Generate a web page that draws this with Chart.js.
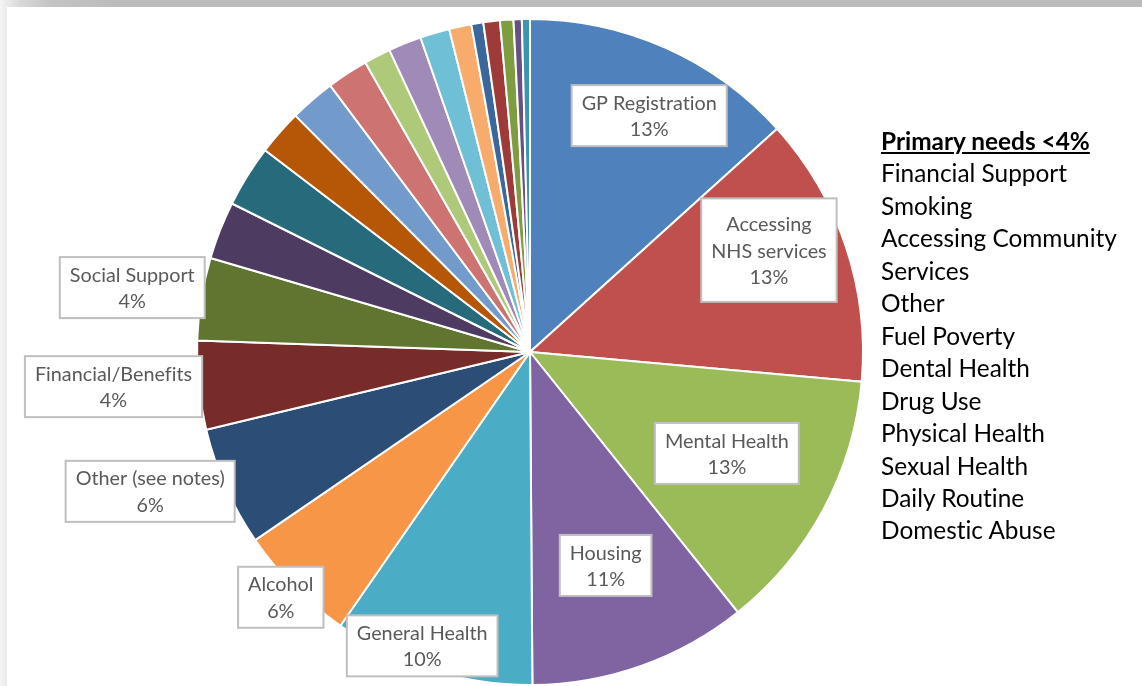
<!DOCTYPE html>
<html>
<head>
<meta charset="utf-8">
<script src="https://cdn.jsdelivr.net/npm/chart.js@4.4.0/dist/chart.umd.min.js"></script>
<style>
  html, body { margin:0; padding:0; background:#fff; }
  body { width:1142px; height:686px; position:relative; overflow:hidden; font-family: Lato, "Open Sans", sans-serif; font-variant-ligatures:none; }
  #topband { position:absolute; left:0; top:0; width:1142px; height:7px;
    background: linear-gradient(to right, #f4f4f4 0px, #d9d9d9 20px, #c4c4c4 50px, #bbbbbb 120px, #bbbbbb 1142px); }
  #leftband { position:absolute; left:0; top:7px; width:7px; height:679px;
    background: linear-gradient(to right, #f6f6f6, #e9e9e9); }
  #wrap { position:absolute; left:0; top:0; width:1142px; height:686px; }
  #legend { position:absolute; left:881px; top:125px; font-family: Lato, "Open Sans", sans-serif; font-size:24.4px; line-height:32.45px; color:#000; white-space:nowrap; font-variant-ligatures:none; }
  #legend .t { font-weight:bold; text-decoration:underline; }
</style>
</head>
<body>
<div id="wrap"><canvas id="c" width="1142" height="686"></canvas></div>
<div id="topband"></div>
<div id="leftband"></div>
<div id="legend"></div>
<script>
// ---- data ----
const categories = [
  "GP Registration", "Accessing NHS services", "Mental Health", "Housing", "General Health",
  "Alcohol", "Other (see notes)", "Financial/Benefits", "Social Support",
  "Financial Support", "Smoking", "Accessing Community Services", "Other", "Fuel Poverty",
  "Dental Health", "Drug Use", "Physical Health", "Sexual Health", "Daily Routine",
  "Domestic Abuse", "Unlisted need A", "Unlisted need B", "Unlisted need C"
];
const shares = [
  13.3, 13.1, 12.85, 10.6, 9.75,
  5.8, 5.8, 4.3, 4.0,
  2.8, 3.0, 2.2, 2.2, 2.0,
  1.3, 1.6, 1.43, 1.08, 0.58,
  0.8, 0.65, 0.4, 0.39
];
const labelLines = [
  ["GP Registration"], ["Accessing", "NHS services"], ["Mental Health"], ["Housing"], ["General Health"],
  ["Alcohol"], ["Other (see notes)"], ["Financial/Benefits"], ["Social Support"]
];
const legendTitle = "Primary needs <4%";
const legendItems = ["Financial Support", "Smoking", "Accessing Community", "Services", "Other",
  "Fuel Poverty", "Dental Health", "Drug Use", "Physical Health", "Sexual Health", "Daily Routine", "Domestic Abuse"];

// ---- styles / placement ----
const colors = [
  "#4F81BD", "#C0504D", "#9BBB59", "#8064A2", "#4BACC6", "#F79646",
  "#2C4D75", "#772C2A", "#5F7530", "#4D3B62", "#276A7C", "#B65708",
  "#729ACA", "#CD7371", "#AFC97A", "#A08BB8", "#6FC0D6", "#F9AB6B",
  "#3A679C", "#9E3B38", "#7E9D40", "#675083", "#3B95AD"
];
// radius fraction, angle offset (degrees) and extra vertical padding for each data label
const labelPlacement = [
  {r:0.795, da:2.8, pad:0}, {r:0.78, da:-4.6, pad:8}, {r:0.665, da:-1.0, pad:0}, {r:0.68, da:0, pad:0},
  {r:0.94, da:3.0, pad:0}, {r:1.05, da:0.3, pad:0}, {r:1.215, da:3.8, pad:0}, {r:1.255, da:1.0, pad:0}, {r:1.21, da:0, pad:0}
];

const lg = document.getElementById('legend');
const t = document.createElement('div'); t.className = 't'; t.textContent = legendTitle; lg.appendChild(t);
legendItems.forEach(s => { const d = document.createElement('div'); d.textContent = s; lg.appendChild(d); });

// break typographic ligatures (e.g. "ti") for canvas text
const noLig = s => s.replace(/t(?=[ifl])/g, 't\u200C').replace(/f(?=[ifl])/g, 'f\u200C');

const labelPlugin = {
  id: 'boxLabels',
  afterDatasetsDraw(chart) {
    const ctx = chart.ctx;
    const meta = chart.getDatasetMeta(0);
    const total = shares.reduce((a, b) => a + b, 0);
    ctx.save();
    ctx.font = '19.8px Lato, "Open Sans", sans-serif';
    ctx.textAlign = 'center';
    ctx.textBaseline = 'middle';
    labelLines.forEach((lines, i) => {
      const arc = meta.data[i];
      const p = labelPlacement[i];
      const mid = (arc.startAngle + arc.endAngle) / 2 + p.da * Math.PI / 180;
      const rr = arc.outerRadius * p.r;
      const cx = arc.x + Math.cos(mid) * rr;
      const cy = arc.y + Math.sin(mid) * rr;
      const all = lines.concat([Math.round(shares[i] / total * 100) + '%']).map(noLig);
      const lh = 26.5;
      let w = 0;
      all.forEach(s => { w = Math.max(w, ctx.measureText(s).width); });
      const padV = 4 + p.pad;
      const bw = w + 20, bh = all.length * lh + 2 * padV;
      ctx.fillStyle = '#ffffff';
      ctx.fillRect(cx - bw / 2, cy - bh / 2, bw, bh);
      ctx.strokeStyle = '#BFBFBF';
      ctx.lineWidth = 2;
      ctx.strokeRect(cx - bw / 2, cy - bh / 2, bw, bh);
      ctx.fillStyle = '#595959';
      all.forEach((s, k) => {
        ctx.fillText(s, cx, cy - bh / 2 + padV + lh * (k + 0.5) + 1);
      });
    });
    ctx.restore();
  }
};

new Chart(document.getElementById('c'), {
  type: 'pie',
  data: {
    labels: categories,
    datasets: [{
      data: shares,
      backgroundColor: colors,
      borderColor: '#ffffff',
      borderWidth: 2
    }]
  },
  options: {
    responsive: false,
    animation: false,
    layout: { padding: { left: 196, right: 278, top: 18, bottom: 0 } },
    plugins: { legend: { display: false }, tooltip: { enabled: false } }
  },
  plugins: [labelPlugin]
});
</script>
</body>
</html>
